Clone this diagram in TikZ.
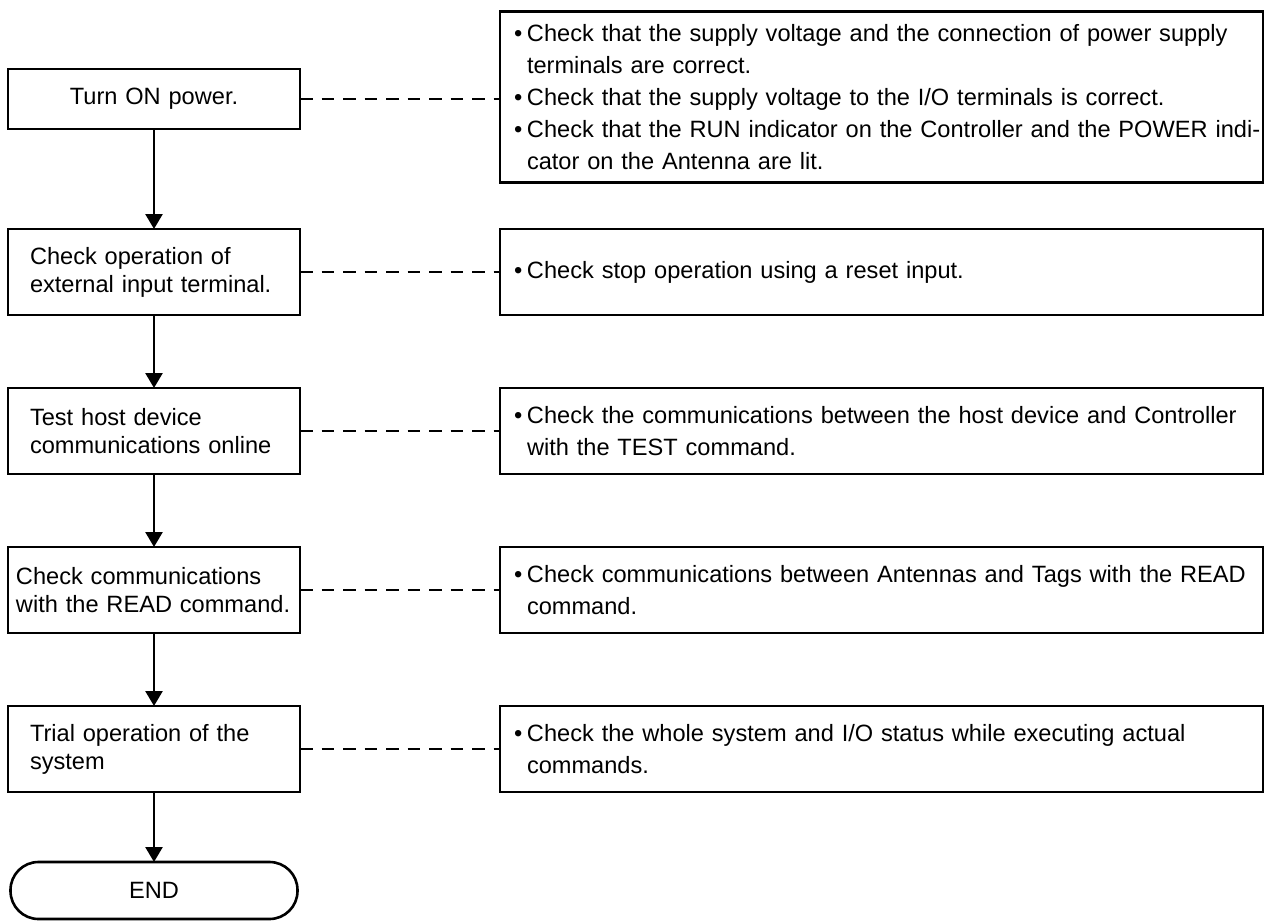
\documentclass[tikz,border=0pt]{standalone}
\usepackage{fontspec}
\setmainfont{Liberation Sans}
\usetikzlibrary{positioning,arrows.meta}

\newcommand{\bul}[1]{\mbox{\hspace*{8pt}\makebox[13pt][l]{\textbullet}#1}}
\newcommand{\ind}[1]{\mbox{\hspace*{21pt}#1}}

\begin{document}
\begin{tikzpicture}[
    x=1pt, y=1pt,
    node distance=73pt and 200pt,
    line width=2.6pt,
    stepbox/.style={
        draw,
        outer sep=0pt,
        minimum width=292pt,
        minimum height=86pt,
        inner xsep=22pt,
        text width=248pt,
        align=left,
        font=\fontsize{23.6}{28}\selectfont
    },
    notebox/.style={
        draw,
        outer sep=0pt,
        minimum width=763pt,
        minimum height=86pt,
        inner xsep=6pt,
        text width=751pt,
        align=left,
        font=\fontsize{23.6}{32}\selectfont
    },
    endbox/.style={
        draw,
        outer sep=0pt,
        rounded corners=28pt,
        minimum width=287pt,
        minimum height=57pt,
        font=\fontsize{23.6}{28}\selectfont
    },
    arrow/.style={-{Triangle[width=17pt,length=15pt]}},
    link/.style={dash pattern=on 12.5pt off 9pt, line width=2.2pt}
]

\useasboundingbox (0,0) rectangle (1265,-923);

\node[stepbox, minimum height=60pt, align=center] (power) at (154,-99)
{Turn ON power.};

\node[stepbox, below=100pt of power] (input)
{Check operation of\\external input terminal.};

\node[stepbox, below=of input] (host)
{Test host device\\communications online};

\node[stepbox, below=of host, inner xsep=8pt, text width=276pt] (read)
{Check communications\\\mbox{with the READ command.}};

\node[stepbox, below=of read] (trial)
{Trial operation of the\\system};

\node[endbox, below=70pt of trial] (end) {END};

\node[notebox, right=of power, yshift=2pt, minimum height=171pt] (powernote)
{\bul{Check that the supply voltage and the connection of power supply}\\
\ind{terminals are correct.}\\
\bul{Check that the supply voltage to the I/O terminals is correct.}\\
\bul{Check that the RUN indicator on the Controller and the POWER indi-}\\
\ind{cator on the Antenna are lit.}};

\node[notebox, right=of input] (inputnote)
{\bul{Check stop operation using a reset input.}};

\node[notebox, right=of host] (hostnote)
{\bul{Check the communications between the host device and Controller}\\
\ind{with the TEST command.}};

\node[notebox, right=of read] (readnote)
{\bul{Check communications between Antennas and Tags with the READ}\\
\ind{command.}};

\node[notebox, right=of trial] (trialnote)
{\bul{Check the whole system and I/O status while executing actual}\\
\ind{commands.}};

\draw[arrow] (power) -- (input);
\draw[arrow] (input) -- (host);
\draw[arrow] (host) -- (read);
\draw[arrow] (read) -- (trial);
\draw[arrow] (trial) -- (end);

\draw[link] (power.east) -- (power.east -| powernote.west);
\draw[link] (input) -- (inputnote);
\draw[link] (host) -- (hostnote);
\draw[link] (read) -- (readnote);
\draw[link] (trial) -- (trialnote);

\end{tikzpicture}
\end{document}
